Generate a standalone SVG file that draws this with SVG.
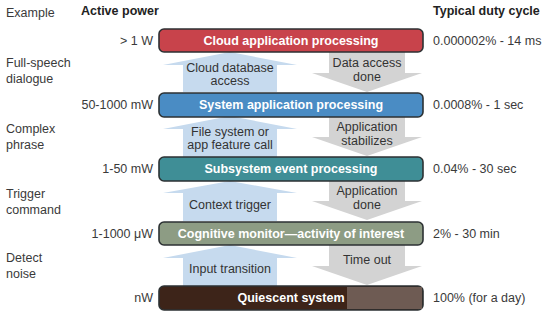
<svg xmlns="http://www.w3.org/2000/svg" width="547" height="319" viewBox="0 0 547 319">
<style>
.t{font-family:"Liberation Sans",Arial,sans-serif;font-size:12.5px;fill:#3a3a3a}
.h{font-family:"Liberation Sans",Arial,sans-serif;font-size:12.5px;font-weight:bold;fill:#222}
.bl{font-family:"Liberation Sans",Arial,sans-serif;font-size:12.5px;font-weight:bold;fill:#fff;text-anchor:middle}
.al{font-family:"Liberation Sans",Arial,sans-serif;font-size:12.5px;fill:#333;text-anchor:middle}
.r{text-anchor:end}
.box{stroke:#2c3133;stroke-width:1.6}
.up{fill:#c6daee}
.dn{fill:#d3d3d3}
</style>
<rect width="547" height="319" fill="#fff"/>
<g id="connectors">
<path class="up" d="M183,92 V65 H163 L230,52 L297,65 H277 V92 Z"/>
<path class="dn" d="M329,52 V73 H312 L367,92 L422,73 H405 V52 Z"/>
<path class="up" d="M183,157 V129 H163 L230,116 L297,129 H277 V157 Z"/>
<path class="dn" d="M329,117 V137 H312 L367,156 L422,137 H405 V117 Z"/>
<path class="up" d="M183,221 V193 H163 L230,181 L297,193 H277 V221 Z"/>
<path class="dn" d="M329,181 V201 H312 L367,220 L422,201 H405 V181 Z"/>
<path class="up" d="M183,286 V258 H163 L230,245 L297,258 H277 V286 Z"/>
<path class="dn" d="M329,245 V266 H312 L367,285 L422,266 H405 V245 Z"/>
<text class="al" x="230" y="72">Cloud database</text>
<text class="al" x="230" y="85">access</text>
<text class="al" x="367" y="67">Data access</text>
<text class="al" x="367" y="81">done</text>
<text class="al" x="230" y="136">File system or</text>
<text class="al" x="230" y="149">app feature call</text>
<text class="al" x="367" y="131">Application</text>
<text class="al" x="367" y="145">stabilizes</text>
<text class="al" x="230" y="209">Context trigger</text>
<text class="al" x="367" y="195">Application</text>
<text class="al" x="367" y="209">done</text>
<text class="al" x="230" y="273">Input transition</text>
<text class="al" x="367" y="264">Time out</text>
</g>
<g id="headers">
<text class="t" x="6" y="17">Example</text>
<text class="h" x="81" y="15">Active power</text>
<text class="h" x="433" y="15">Typical duty cycle</text>
</g>
<g id="cloud">
<rect class="box" x="159" y="29" width="264" height="23" rx="5" fill="#c8434b"/>
<text class="bl" x="291" y="45">Cloud application processing</text>
<text class="t r" x="153" y="45">&gt; 1 W</text>
<text class="t" x="433" y="45">0.000002% - 14 ms</text>
</g>
<g id="system">
<rect class="box" x="159" y="93" width="264" height="24" rx="5" fill="#4a8cc4"/>
<text class="bl" x="291" y="109">System application processing</text>
<text class="t r" x="153" y="109">50-1000 mW</text>
<text class="t" x="433" y="109">0.0008% - 1 sec</text>
<text class="t" x="6" y="67">Full-speech</text>
<text class="t" x="6" y="83">dialogue</text>
</g>
<g id="subsystem">
<rect class="box" x="159" y="157" width="264" height="24" rx="5" fill="#3f8e96"/>
<text class="bl" x="291" y="173">Subsystem event processing</text>
<text class="t r" x="153" y="173">1-50 mW</text>
<text class="t" x="433" y="173">0.04% - 30 sec</text>
<text class="t" x="6" y="133">Complex</text>
<text class="t" x="6" y="149">phrase</text>
</g>
<g id="cognitive">
<rect class="box" x="159" y="222" width="264" height="23" rx="5" fill="#8d9c84"/>
<text class="bl" x="291" y="238">Cognitive monitor—activity of interest</text>
<text class="t r" x="153" y="238">1-1000 μW</text>
<text class="t" x="433" y="238">2% - 30 min</text>
<text class="t" x="6" y="198">Trigger</text>
<text class="t" x="6" y="214">command</text>
</g>
<g id="quiescent">
<rect class="box" x="159" y="286" width="264" height="24" rx="5" fill="#3d2419"/>
<rect x="347" y="287" width="75" height="22" fill="#6e5b53"/>
<text class="bl" x="291" y="302">Quiescent system</text>
<text class="t r" x="153" y="302">nW</text>
<text class="t" x="433" y="302">100% (for a day)</text>
<text class="t" x="6" y="262">Detect</text>
<text class="t" x="6" y="278">noise</text>
</g>
</svg>
